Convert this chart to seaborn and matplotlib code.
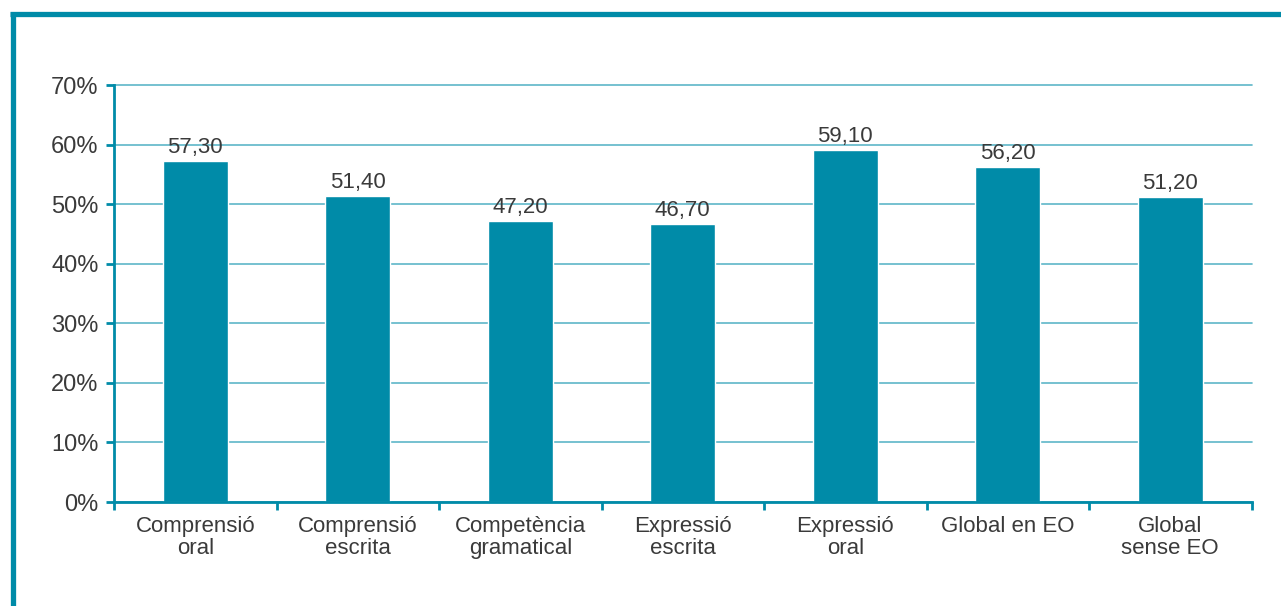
import numpy as np
import matplotlib
matplotlib.use("Agg")
import matplotlib.pyplot as plt
import seaborn as sns
import pandas as pd
from matplotlib.lines import Line2D

categories = ["Comprensió\noral", "Comprensió\nescrita", "Competència\ngramatical",
              "Expressió\nescrita", "Expressió\noral", "Global en EO", "Global\nsense EO"]
values = [57.30, 51.40, 47.20, 46.70, 59.10, 56.20, 51.20]
yticks = [0, 10, 20, 30, 40, 50, 60, 70]

teal = "#008BA8"
grid_teal = "#5DB6C8"
text_col = "#3a3a3a"

sns.set_theme(style="white")
plt.rcParams['font.family'] = ['Liberation Sans', 'DejaVu Sans']

df = pd.DataFrame({"cat": categories, "val": values})

fig = plt.figure(figsize=(12.81, 6.06), dpi=100)
ax = fig.add_axes([0.089, 0.1716, 0.888, 0.6881])

sns.barplot(data=df, x="cat", y="val", color=teal, saturation=1, width=0.4, ax=ax, zorder=3)

ax.set_ylim(0, 70)
ax.set_xlim(-0.5, len(categories) - 0.5)
ax.set_yticks(yticks)
ax.set_yticklabels([f"{t}%" for t in yticks])
ax.yaxis.grid(True, color=grid_teal, linewidth=1.2, zorder=0)
for gl in ax.get_ygridlines():
    gl.set_clip_on(False)
ax.set_axisbelow(True)
ax.set_xlabel(""); ax.set_ylabel("")

for s in ["top", "right"]:
    ax.spines[s].set_visible(False)
for s in ["left", "bottom"]:
    ax.spines[s].set_color(teal)
    ax.spines[s].set_linewidth(2)
    ax.spines[s].set_zorder(4)

ax.tick_params(axis="y", length=6, width=2, color=teal, labelsize=17, labelcolor=text_col, pad=5, left=True)
ax.tick_params(axis="x", which="major", length=0, labelsize=16, labelcolor=text_col, pad=10)
ax.set_xticks(np.arange(-0.5, len(categories), 1), minor=True)
ax.tick_params(axis="x", which="minor", length=6, width=2, color=teal, bottom=True)
for lbl in ax.get_xticklabels():
    lbl.set_linespacing(1.1)

for i, v in enumerate(values):
    ax.annotate(f"{v:.2f}".replace(".", ","), (i, v), xytext=(0, 2), textcoords="offset points",
                ha="center", va="bottom", fontsize=16, color=text_col, zorder=5)

# outer frame
fig.add_artist(Line2D([0.0078, 1.0], [0.9777, 0.9777], color=teal, linewidth=3.8,
                      solid_capstyle="butt", transform=fig.transFigure))
fig.add_artist(Line2D([0.0098, 0.0098], [0.0, 0.9810], color=teal, linewidth=3.8,
                      solid_capstyle="butt", transform=fig.transFigure))

fig.savefig("out.png", dpi=100, facecolor="white")
